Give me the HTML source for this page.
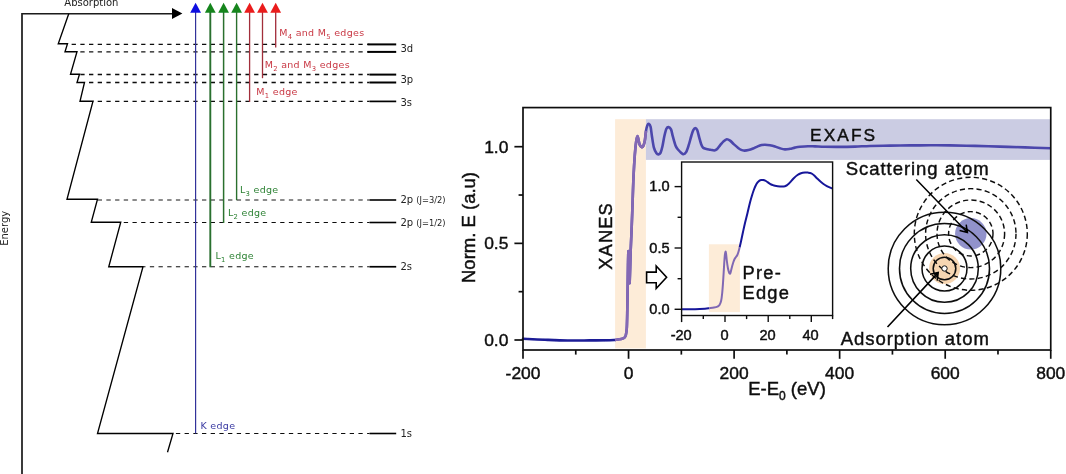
<!DOCTYPE html>
<html lang="en"><head><meta charset="utf-8"><title>X-ray absorption edges and XANES / EXAFS</title>
<style>
html,body{margin:0;padding:0;background:#fff;}
body{width:1066px;height:474px;overflow:hidden;}
svg{display:block;}
.dj{font-family:"DejaVu Sans","Liberation Sans",sans-serif;font-size:10px;}
.ar{font-family:"Liberation Sans",Arial,sans-serif;}
</style></head><body>
<svg width="1066" height="474" viewBox="0 0 1066 474">
<rect x="0" y="0" width="1066" height="474" fill="#ffffff"/>
<defs><filter id="soft" x="0" y="0" width="1066" height="474" filterUnits="userSpaceOnUse"><feGaussianBlur stdDeviation="0.45"/></filter></defs>
<g filter="url(#soft)">

<g id="left" fill="none">
<polyline points="22,474 22,13.75 173,13.75" stroke="#1c1c1c" stroke-width="1.7"/>
<polygon points="172,7.9 182.4,13.4 172,18.9" fill="#000"/>
<polyline points="68.75,13.75 58.25,43.75 67.5,43.75 65,51.75 77,51.75 70.5,74.25 79.5,74.25 77,82.5 84.5,82.5 80,101.25 93,101.25 67,199.25 97.5,199.25 91.25,222.25 120.75,222.25 108.75,266.75 143,266.75 97.5,433.5 173,433.5 167.5,452.25" stroke="#000" stroke-width="1.35" stroke-linejoin="miter"/>
<line x1="369.5" y1="44.4" x2="67.5" y2="44.4" stroke="#111" stroke-width="1.3" stroke-dasharray="4.3 4.39" stroke-dashoffset="1.9"/>
<line x1="369.5" y1="51.9" x2="77" y2="51.9" stroke="#111" stroke-width="1.3" stroke-dasharray="4.3 4.39" stroke-dashoffset="1.9"/>
<line x1="369.5" y1="74.5" x2="79.5" y2="74.5" stroke="#111" stroke-width="1.3" stroke-dasharray="4.3 4.39" stroke-dashoffset="1.9"/>
<line x1="369.5" y1="82.5" x2="84.5" y2="82.5" stroke="#111" stroke-width="1.3" stroke-dasharray="4.3 4.39" stroke-dashoffset="1.9"/>
<line x1="369.5" y1="101.4" x2="93" y2="101.4" stroke="#111" stroke-width="1.3" stroke-dasharray="4.3 4.39" stroke-dashoffset="1.9"/>
<line x1="369.5" y1="200.0" x2="97.5" y2="200.0" stroke="#111" stroke-width="1.0" stroke-dasharray="4.3 4.39" stroke-dashoffset="1.9"/>
<line x1="369.5" y1="222.5" x2="120.75" y2="222.5" stroke="#111" stroke-width="1.0" stroke-dasharray="4.3 4.39" stroke-dashoffset="1.9"/>
<line x1="369.5" y1="266.75" x2="143" y2="266.75" stroke="#111" stroke-width="1.0" stroke-dasharray="4.3 4.39" stroke-dashoffset="1.9"/>
<line x1="369.5" y1="433.5" x2="173" y2="433.5" stroke="#111" stroke-width="1.0" stroke-dasharray="4.3 4.39" stroke-dashoffset="1.9"/>
<line x1="367.5" y1="44.4" x2="396.2" y2="44.4" stroke="#000" stroke-width="2.0"/>
<line x1="367.5" y1="51.9" x2="396.2" y2="51.9" stroke="#000" stroke-width="2.0"/>
<line x1="369.5" y1="74.6" x2="396.2" y2="74.6" stroke="#000" stroke-width="2.0"/>
<line x1="369.5" y1="82.5" x2="396.2" y2="82.5" stroke="#000" stroke-width="2.0"/>
<line x1="369.5" y1="101.4" x2="396.2" y2="101.4" stroke="#000" stroke-width="1.7"/>
<line x1="369.5" y1="200.0" x2="396.2" y2="200.0" stroke="#000" stroke-width="1.6"/>
<line x1="369.5" y1="222.5" x2="396.2" y2="222.5" stroke="#000" stroke-width="1.6"/>
<line x1="369.5" y1="266.75" x2="396.2" y2="266.75" stroke="#000" stroke-width="1.7"/>
<line x1="369.5" y1="433.5" x2="396.2" y2="433.5" stroke="#000" stroke-width="1.6"/>
<line x1="195.6" y1="11" x2="195.6" y2="433.5" stroke="#32329a" stroke-width="1.2"/>
<polygon points="190.2,12.8 201.0,12.8 195.6,2.8" fill="#0a0ae0"/>
<line x1="210.3" y1="11" x2="210.3" y2="267.2" stroke="#296f2e" stroke-width="1.9"/>
<polygon points="204.9,12.8 215.70000000000002,12.8 210.3,2.8" fill="#14851f"/>
<line x1="223.6" y1="11" x2="223.6" y2="223.0" stroke="#296f2e" stroke-width="1.5"/>
<polygon points="218.2,12.8 229.0,12.8 223.6,2.8" fill="#14851f"/>
<line x1="236.6" y1="11" x2="236.6" y2="200.2" stroke="#296f2e" stroke-width="1.4"/>
<polygon points="231.2,12.8 242.0,12.8 236.6,2.8" fill="#14851f"/>
<line x1="249.6" y1="11" x2="249.6" y2="101.9" stroke="#a22e3a" stroke-width="1.3"/>
<polygon points="244.2,12.8 255.0,12.8 249.6,2.8" fill="#ea1c1c"/>
<line x1="262.5" y1="11" x2="262.5" y2="78.2" stroke="#a22e3a" stroke-width="1.3"/>
<polygon points="257.1,12.8 267.9,12.8 262.5,2.8" fill="#ea1c1c"/>
<line x1="275.7" y1="11" x2="275.7" y2="47.6" stroke="#a22e3a" stroke-width="1.3"/>
<polygon points="270.3,12.8 281.09999999999997,12.8 275.7,2.8" fill="#ea1c1c"/>
</g>
<g id="left-text" class="dj">
<text x="64.3" y="6.2" fill="#222">Absorption</text>
<text transform="translate(7.6,245.8) rotate(-90)" fill="#222">Energy</text>
<g font-size="9.5" letter-spacing="0.3">
<text x="279.2" y="35.6" fill="#c93844">M<tspan dy="3" font-size="6.8">4</tspan><tspan dy="-3"> and M</tspan><tspan dy="3" font-size="6.8">5</tspan><tspan dy="-3"> edges</tspan></text>
<text x="264.7" y="68" fill="#c93844">M<tspan dy="3" font-size="6.8">2</tspan><tspan dy="-3"> and M</tspan><tspan dy="3" font-size="6.8">3</tspan><tspan dy="-3"> edges</tspan></text>
<text x="256.3" y="94.9" fill="#c93844">M<tspan dy="3" font-size="6.8">1</tspan><tspan dy="-3"> edge</tspan></text>
<text x="240" y="192.9" fill="#2f8336">L<tspan dy="3" font-size="6.8">3</tspan><tspan dy="-3"> edge</tspan></text>
<text x="228" y="215.5" fill="#2f8336">L<tspan dy="3" font-size="6.8">2</tspan><tspan dy="-3"> edge</tspan></text>
<text x="215.5" y="259" fill="#2f8336">L<tspan dy="3" font-size="6.8">1</tspan><tspan dy="-3"> edge</tspan></text>
<text x="200.5" y="428.5" fill="#3a3aa2">K edge</text>
</g>
<text x="400.4" y="51.6" fill="#222">3d</text>
<text x="400.4" y="82.9" fill="#222">3p</text>
<text x="400.4" y="105.9" fill="#222">3s</text>
<text x="400.4" y="270.4" fill="#222">2s</text>
<text x="400.4" y="437.1" fill="#222">1s</text>
<text x="400.4" y="203.4" fill="#222">2p <tspan font-size="8.3" dy="-0.4">(J=3/2)</tspan></text>
<text x="400.4" y="226.1" fill="#222">2p <tspan font-size="8.3" dy="-0.4">(J=1/2)</tspan></text>
</g>
<g id="right">
<rect x="615.1" y="119.2" width="30.8" height="229.2" fill="#fdecd8"/>
<rect x="645.9" y="119.2" width="404.3" height="40.7" fill="#cbcce3"/>
<path d="M523.00,338.80 C526.67,338.97 537.58,339.52 545.00,339.80 C552.42,340.08 560.00,340.40 567.50,340.50 C575.00,340.60 582.92,340.45 590.00,340.40 C597.08,340.35 605.83,340.27 610.00,340.20 C614.17,340.13 614.17,340.03 615.00,340.00" fill="none" stroke="#1a1a96" stroke-width="2.6" stroke-linejoin="round" stroke-linecap="round"/>
<path d="M615.00,340.00 C616.05,339.83 619.75,339.37 621.30,339.00 C622.85,338.63 623.55,338.43 624.30,337.80 C625.05,337.17 625.38,336.83 625.80,335.20 C626.22,333.57 626.55,332.20 626.80,328.00 C627.05,323.80 627.15,317.17 627.30,310.00 C627.45,302.83 627.58,292.50 627.70,285.00 C627.82,277.50 627.88,270.63 628.00,265.00 C628.12,259.37 628.25,251.70 628.40,251.20 C628.55,250.70 628.72,256.70 628.90,262.00 C629.08,267.30 629.30,281.67 629.50,283.00 C629.70,284.33 629.90,275.50 630.10,270.00 C630.30,264.50 630.47,256.33 630.70,250.00 C630.93,243.67 631.20,239.50 631.50,232.00 C631.80,224.50 632.17,214.17 632.50,205.00 C632.83,195.83 633.11,185.43 633.50,177.00 C633.89,168.57 634.40,160.35 634.85,154.40 C635.30,148.45 635.76,144.37 636.20,141.30 C636.64,138.23 637.07,136.00 637.50,136.00 C637.93,136.00 638.37,139.70 638.80,141.30 C639.23,142.90 639.45,144.67 640.10,145.60 C640.75,146.53 641.93,147.62 642.70,146.90 C643.47,146.18 644.15,143.98 644.70,141.30 C645.25,138.62 645.57,133.43 646.00,130.80 C646.43,128.17 646.82,126.65 647.30,125.50 C647.78,124.35 648.35,123.68 648.90,123.90 C649.45,124.12 650.10,124.78 650.60,126.80 C651.10,128.82 651.35,132.53 651.90,136.00 C652.45,139.47 653.13,144.72 653.90,147.60 C654.67,150.48 655.73,152.17 656.50,153.30 C657.27,154.43 657.83,154.47 658.50,154.40 C659.17,154.33 659.85,154.22 660.50,152.90 C661.15,151.58 661.75,149.32 662.40,146.50 C663.05,143.68 663.73,138.95 664.40,136.00 C665.07,133.05 665.70,130.28 666.40,128.80 C667.10,127.32 667.83,127.00 668.60,127.10 C669.37,127.20 670.28,127.80 671.00,129.40 C671.72,131.00 672.13,133.98 672.90,136.70 C673.67,139.42 674.72,143.52 675.60,145.70 C676.48,147.88 677.33,148.68 678.20,149.80 C679.07,150.92 679.93,151.67 680.80,152.40 C681.67,153.13 682.52,154.23 683.40,154.20 C684.28,154.17 685.22,153.70 686.10,152.20 C686.98,150.70 687.83,147.90 688.70,145.20 C689.57,142.50 690.53,138.52 691.30,136.00 C692.07,133.48 692.63,131.42 693.30,130.10 C693.97,128.78 694.65,128.10 695.30,128.10 C695.95,128.10 696.55,128.57 697.20,130.10 C697.85,131.63 698.53,134.93 699.20,137.30 C699.87,139.67 700.55,142.55 701.20,144.30 C701.85,146.05 702.23,147.02 703.10,147.80 C703.97,148.58 705.18,148.68 706.40,149.00 C707.62,149.32 709.08,149.45 710.40,149.70 C711.72,149.95 713.22,150.57 714.30,150.50 C715.38,150.43 715.92,150.18 716.90,149.30 C717.88,148.42 719.10,146.52 720.20,145.20 C721.30,143.88 722.40,142.40 723.50,141.40 C724.60,140.40 725.70,139.33 726.80,139.20 C727.90,139.07 728.90,139.73 730.10,140.60 C731.30,141.47 732.70,143.22 734.00,144.40 C735.30,145.58 736.70,146.78 737.90,147.70 C739.10,148.62 740.10,149.42 741.20,149.90 C742.30,150.38 743.28,150.57 744.50,150.60 C745.72,150.63 747.07,150.45 748.50,150.10 C749.93,149.75 751.57,149.12 753.10,148.50 C754.63,147.88 756.28,146.97 757.70,146.40 C759.12,145.83 760.38,145.38 761.60,145.10 C762.82,144.82 763.60,144.68 765.00,144.70 C766.40,144.72 768.33,144.92 770.00,145.20 C771.67,145.48 773.33,145.88 775.00,146.40 C776.67,146.92 778.33,147.80 780.00,148.30 C781.67,148.80 783.33,149.32 785.00,149.40 C786.67,149.48 788.33,149.10 790.00,148.80 C791.67,148.50 793.33,147.93 795.00,147.60 C796.67,147.27 797.83,147.03 800.00,146.80 C802.17,146.57 805.50,146.27 808.00,146.20 C810.50,146.13 812.17,146.30 815.00,146.40 C817.83,146.50 820.83,146.72 825.00,146.80 C829.17,146.88 835.00,146.93 840.00,146.90 C845.00,146.87 850.00,146.75 855.00,146.60 C860.00,146.45 864.17,146.17 870.00,146.00 C875.83,145.83 883.33,145.70 890.00,145.60 C896.67,145.50 903.33,145.45 910.00,145.40 C916.67,145.35 923.33,145.30 930.00,145.30 C936.67,145.30 942.50,145.30 950.00,145.40 C957.50,145.50 966.67,145.70 975.00,145.90 C983.33,146.10 991.67,146.35 1000.00,146.60 C1008.33,146.85 1016.54,147.13 1025.00,147.40 C1033.46,147.67 1046.46,148.07 1050.75,148.20" fill="none" stroke="#4c46ac" stroke-width="2.6" stroke-linejoin="round" stroke-linecap="butt"/>
<path d="M615.00,340.00 C616.05,339.83 619.75,339.37 621.30,339.00 C622.85,338.63 623.55,338.43 624.30,337.80 C625.05,337.17 625.38,336.83 625.80,335.20 C626.22,333.57 626.55,332.20 626.80,328.00 C627.05,323.80 627.15,317.17 627.30,310.00 C627.45,302.83 627.58,292.50 627.70,285.00 C627.82,277.50 627.88,270.63 628.00,265.00 C628.12,259.37 628.25,251.70 628.40,251.20 C628.55,250.70 628.72,256.70 628.90,262.00 C629.08,267.30 629.30,281.67 629.50,283.00 C629.70,284.33 629.90,275.50 630.10,270.00 C630.30,264.50 630.47,256.33 630.70,250.00 C630.93,243.67 631.20,239.50 631.50,232.00 C631.80,224.50 632.17,214.17 632.50,205.00 C632.83,195.83 633.11,185.43 633.50,177.00 C633.89,168.57 634.40,160.35 634.85,154.40 C635.30,148.45 635.76,144.37 636.20,141.30 C636.64,138.23 637.07,136.00 637.50,136.00 C637.93,136.00 638.37,139.70 638.80,141.30 C639.23,142.90 639.45,144.67 640.10,145.60 C640.75,146.53 641.93,147.62 642.70,146.90 C643.47,146.18 644.15,143.98 644.70,141.30 C645.25,138.62 645.78,132.55 646.00,130.80" fill="none" stroke="#8468b4" stroke-width="2.6" stroke-linejoin="round"/>
<rect x="523.0" y="107.6" width="527.75" height="242.4" fill="none" stroke="#111" stroke-width="1.7"/>
<line x1="523.00" y1="350.0" x2="523.00" y2="358.8" stroke="#111" stroke-width="1.7"/>
<line x1="628.55" y1="350.0" x2="628.55" y2="358.8" stroke="#111" stroke-width="1.7"/>
<line x1="734.10" y1="350.0" x2="734.10" y2="358.8" stroke="#111" stroke-width="1.7"/>
<line x1="839.65" y1="350.0" x2="839.65" y2="358.8" stroke="#111" stroke-width="1.7"/>
<line x1="945.20" y1="350.0" x2="945.20" y2="358.8" stroke="#111" stroke-width="1.7"/>
<line x1="1050.75" y1="350.0" x2="1050.75" y2="358.8" stroke="#111" stroke-width="1.7"/>
<line x1="575.77" y1="350.0" x2="575.77" y2="354.6" stroke="#111" stroke-width="1.7"/>
<line x1="681.33" y1="350.0" x2="681.33" y2="354.6" stroke="#111" stroke-width="1.7"/>
<line x1="786.88" y1="350.0" x2="786.88" y2="354.6" stroke="#111" stroke-width="1.7"/>
<line x1="892.42" y1="350.0" x2="892.42" y2="354.6" stroke="#111" stroke-width="1.7"/>
<line x1="997.98" y1="350.0" x2="997.98" y2="354.6" stroke="#111" stroke-width="1.7"/>
<line x1="514.4" y1="340.00" x2="523.0" y2="340.00" stroke="#111" stroke-width="1.7"/>
<line x1="514.4" y1="243.35" x2="523.0" y2="243.35" stroke="#111" stroke-width="1.7"/>
<line x1="514.4" y1="146.70" x2="523.0" y2="146.70" stroke="#111" stroke-width="1.7"/>
<line x1="518.6" y1="291.68" x2="523.0" y2="291.68" stroke="#111" stroke-width="1.7"/>
<line x1="518.6" y1="195.02" x2="523.0" y2="195.02" stroke="#111" stroke-width="1.7"/>
<rect x="681.6" y="162.0" width="151.0" height="153.5" fill="#ffffff"/>
<rect x="708.9" y="244.3" width="31" height="67.8" fill="#fdecd8"/>
<path d="M681.60,309.30 C683.83,309.28 691.10,309.30 695.00,309.20 C698.90,309.10 702.62,308.87 705.00,308.70 C707.38,308.53 708.58,308.28 709.30,308.20" fill="none" stroke="#16169a" stroke-width="2.0" stroke-linejoin="round"/>
<path d="M739.60,247.50 C739.87,246.33 740.63,243.08 741.20,240.50 C741.77,237.92 742.37,234.92 743.00,232.00 C743.63,229.08 744.25,226.17 745.00,223.00 C745.75,219.83 746.67,216.42 747.50,213.00 C748.33,209.58 749.25,205.42 750.00,202.50 C750.75,199.58 751.37,197.58 752.00,195.50 C752.63,193.42 753.18,191.67 753.80,190.00 C754.42,188.33 755.07,186.77 755.70,185.50 C756.33,184.23 756.97,183.22 757.60,182.40 C758.23,181.58 758.88,181.00 759.50,180.60 C760.12,180.20 760.68,180.08 761.30,180.00 C761.92,179.92 762.55,179.98 763.20,180.10 C763.85,180.22 764.47,180.35 765.20,180.70 C765.93,181.05 766.80,181.68 767.60,182.20 C768.40,182.72 769.18,183.33 770.00,183.80 C770.82,184.27 771.67,184.67 772.50,185.00 C773.33,185.33 773.75,185.57 775.00,185.80 C776.25,186.03 778.33,186.33 780.00,186.40 C781.67,186.47 783.75,186.47 785.00,186.20 C786.25,185.93 786.67,185.43 787.50,184.80 C788.33,184.17 789.00,183.45 790.00,182.40 C791.00,181.35 792.25,179.73 793.50,178.50 C794.75,177.27 796.25,175.88 797.50,175.00 C798.75,174.12 799.75,173.62 801.00,173.20 C802.25,172.78 803.83,172.60 805.00,172.50 C806.17,172.40 806.95,172.47 808.00,172.60 C809.05,172.73 810.30,172.85 811.30,173.30 C812.30,173.75 812.97,174.38 814.00,175.30 C815.03,176.22 816.33,177.68 817.50,178.80 C818.67,179.92 819.75,180.97 821.00,182.00 C822.25,183.03 823.67,184.13 825.00,185.00 C826.33,185.87 827.73,186.60 829.00,187.20 C830.27,187.80 832.00,188.37 832.60,188.60" fill="none" stroke="#16169a" stroke-width="2.0" stroke-linejoin="round"/>
<path d="M709.30,308.20 C710.08,308.10 712.63,307.87 714.00,307.60 C715.37,307.33 716.58,307.03 717.50,306.60 C718.42,306.17 718.88,306.02 719.50,305.00 C720.12,303.98 720.75,302.50 721.20,300.50 C721.65,298.50 721.90,295.92 722.20,293.00 C722.50,290.08 722.75,286.50 723.00,283.00 C723.25,279.50 723.48,275.50 723.70,272.00 C723.92,268.50 724.10,264.92 724.30,262.00 C724.50,259.08 724.70,256.23 724.90,254.50 C725.10,252.77 725.30,251.68 725.50,251.60 C725.70,251.52 725.88,252.52 726.10,254.00 C726.32,255.48 726.52,258.25 726.80,260.50 C727.08,262.75 727.47,265.62 727.80,267.50 C728.13,269.38 728.50,270.78 728.80,271.80 C729.10,272.82 729.33,273.37 729.60,273.60 C729.87,273.83 730.13,273.80 730.40,273.20 C730.67,272.60 730.90,271.20 731.20,270.00 C731.50,268.80 731.83,267.33 732.20,266.00 C732.57,264.67 733.00,263.17 733.40,262.00 C733.80,260.83 734.17,259.83 734.60,259.00 C735.03,258.17 735.57,257.63 736.00,257.00 C736.43,256.37 736.80,256.03 737.20,255.20 C737.60,254.37 738.00,253.28 738.40,252.00 C738.80,250.72 739.40,248.25 739.60,247.50" fill="none" stroke="#8068b4" stroke-width="2.0" stroke-linejoin="round"/>
<rect x="681.6" y="162.0" width="151.0" height="153.5" fill="none" stroke="#111" stroke-width="1.4"/>
<line x1="681.6" y1="315.5" x2="681.6" y2="322.1" stroke="#111" stroke-width="1.4"/>
<line x1="725.0" y1="315.5" x2="725.0" y2="322.1" stroke="#111" stroke-width="1.4"/>
<line x1="768.2" y1="315.5" x2="768.2" y2="322.1" stroke="#111" stroke-width="1.4"/>
<line x1="811.3" y1="315.5" x2="811.3" y2="322.1" stroke="#111" stroke-width="1.4"/>
<line x1="703.3" y1="315.5" x2="703.3" y2="319.1" stroke="#111" stroke-width="1.4"/>
<line x1="746.6" y1="315.5" x2="746.6" y2="319.1" stroke="#111" stroke-width="1.4"/>
<line x1="789.8" y1="315.5" x2="789.8" y2="319.1" stroke="#111" stroke-width="1.4"/>
<line x1="832.6" y1="315.5" x2="832.6" y2="319.1" stroke="#111" stroke-width="1.4"/>
<line x1="674.6" y1="186.6" x2="681.6" y2="186.6" stroke="#111" stroke-width="1.4"/>
<line x1="674.6" y1="248.0" x2="681.6" y2="248.0" stroke="#111" stroke-width="1.4"/>
<line x1="674.6" y1="309.3" x2="681.6" y2="309.3" stroke="#111" stroke-width="1.4"/>
<line x1="677.6" y1="217.3" x2="681.6" y2="217.3" stroke="#111" stroke-width="1.4"/>
<line x1="677.6" y1="278.7" x2="681.6" y2="278.7" stroke="#111" stroke-width="1.4"/>
<polygon points="646.6,272.1 656.2,272.1 656.2,266.0 666.6,277.3 656.2,288.5 656.2,282.7 646.6,282.7" fill="#ffffff" stroke="#000" stroke-width="1.6" stroke-linejoin="miter"/>
<circle cx="944.5" cy="268.5" r="15.5" fill="#f7d6b2"/>
<circle cx="970.8" cy="233.8" r="15.7" fill="#9192cb"/>
<circle cx="944.5" cy="268.5" r="11.3" fill="none" stroke="#111" stroke-width="1.55"/>
<circle cx="944.5" cy="268.5" r="22.5" fill="none" stroke="#111" stroke-width="1.55"/>
<circle cx="944.5" cy="268.5" r="33.8" fill="none" stroke="#111" stroke-width="1.55"/>
<circle cx="944.5" cy="268.5" r="45.0" fill="none" stroke="#111" stroke-width="1.55"/>
<circle cx="944.5" cy="268.5" r="56.3" fill="none" stroke="#111" stroke-width="1.55"/>
<circle cx="970.8" cy="233.8" r="22.2" fill="none" stroke="#111" stroke-width="1.45" stroke-dasharray="5.2 3.2"/>
<circle cx="970.8" cy="233.8" r="33.8" fill="none" stroke="#111" stroke-width="1.45" stroke-dasharray="5.2 3.2"/>
<circle cx="970.8" cy="233.8" r="45.2" fill="none" stroke="#111" stroke-width="1.45" stroke-dasharray="5.2 3.2"/>
<circle cx="970.8" cy="233.8" r="56.5" fill="none" stroke="#111" stroke-width="1.45" stroke-dasharray="5.2 3.2"/>
<circle cx="944.5" cy="268.5" r="2.7" fill="#fff" stroke="#111" stroke-width="1"/>
<path d="M916.3,179.4 L967.4,232.5 M966.2,224.6 L967.4,232.5 L959.6,230.6" fill="none" stroke="#000" stroke-width="1.5"/>
<path d="M887.5,327 L938.2,272.6 M930.0,274.3 L938.2,272.6 L937.2,280.6" fill="none" stroke="#000" stroke-width="1.6"/>
</g>
<g id="right-text" class="ar" fill="#111" stroke="#111" stroke-width="0.45">
<text x="523.0" y="378.5" font-size="17.4" text-anchor="middle">-200</text>
<text x="628.5" y="378.5" font-size="17.4" text-anchor="middle">0</text>
<text x="734.1" y="378.5" font-size="17.4" text-anchor="middle">200</text>
<text x="839.6" y="378.5" font-size="17.4" text-anchor="middle">400</text>
<text x="945.2" y="378.5" font-size="17.4" text-anchor="middle">600</text>
<text x="1050.8" y="378.5" font-size="17.4" text-anchor="middle">800</text>
<text x="508.4" y="345.8" font-size="17.4" text-anchor="end">0.0</text>
<text x="508.4" y="249.2" font-size="17.4" text-anchor="end">0.5</text>
<text x="508.4" y="152.5" font-size="17.4" text-anchor="end">1.0</text>
<text x="748.2" y="395" font-size="18.5">E-E<tspan dy="4.5" font-size="12">0</tspan><tspan dy="-4.5"> (eV)</tspan></text>
<text transform="translate(474.6,283) rotate(-90)" font-size="18.5">Norm. E (a.u)</text>
<text transform="translate(611.6,269.8) rotate(-90)" font-size="18.3" letter-spacing="1.15">XANES</text>
<text x="810" y="140.6" font-size="17.3" letter-spacing="2.1">EXAFS</text>
<text x="845.8" y="175" font-size="18.5" letter-spacing="0.95">Scattering atom</text>
<text x="840.8" y="344.5" font-size="18.5" letter-spacing="0.95">Adsorption atom</text>
<text x="742.6" y="278.5" font-size="18.3" letter-spacing="1.2">Pre-</text>
<text x="742.6" y="299.3" font-size="18.3" letter-spacing="1.2">Edge</text>
<text x="681.2" y="340" font-size="14.6" text-anchor="middle">-20</text>
<text x="724.6" y="340" font-size="14.6" text-anchor="middle">0</text>
<text x="767.6" y="340" font-size="14.6" text-anchor="middle">20</text>
<text x="810.6" y="340" font-size="14.6" text-anchor="middle">40</text>
<text x="669.6" y="191.2" font-size="14.6" text-anchor="end">1.0</text>
<text x="669.6" y="252.8" font-size="14.6" text-anchor="end">0.5</text>
<text x="669.6" y="314.0" font-size="14.6" text-anchor="end">0.0</text>
</g>
</g>
</svg>
</body></html>
